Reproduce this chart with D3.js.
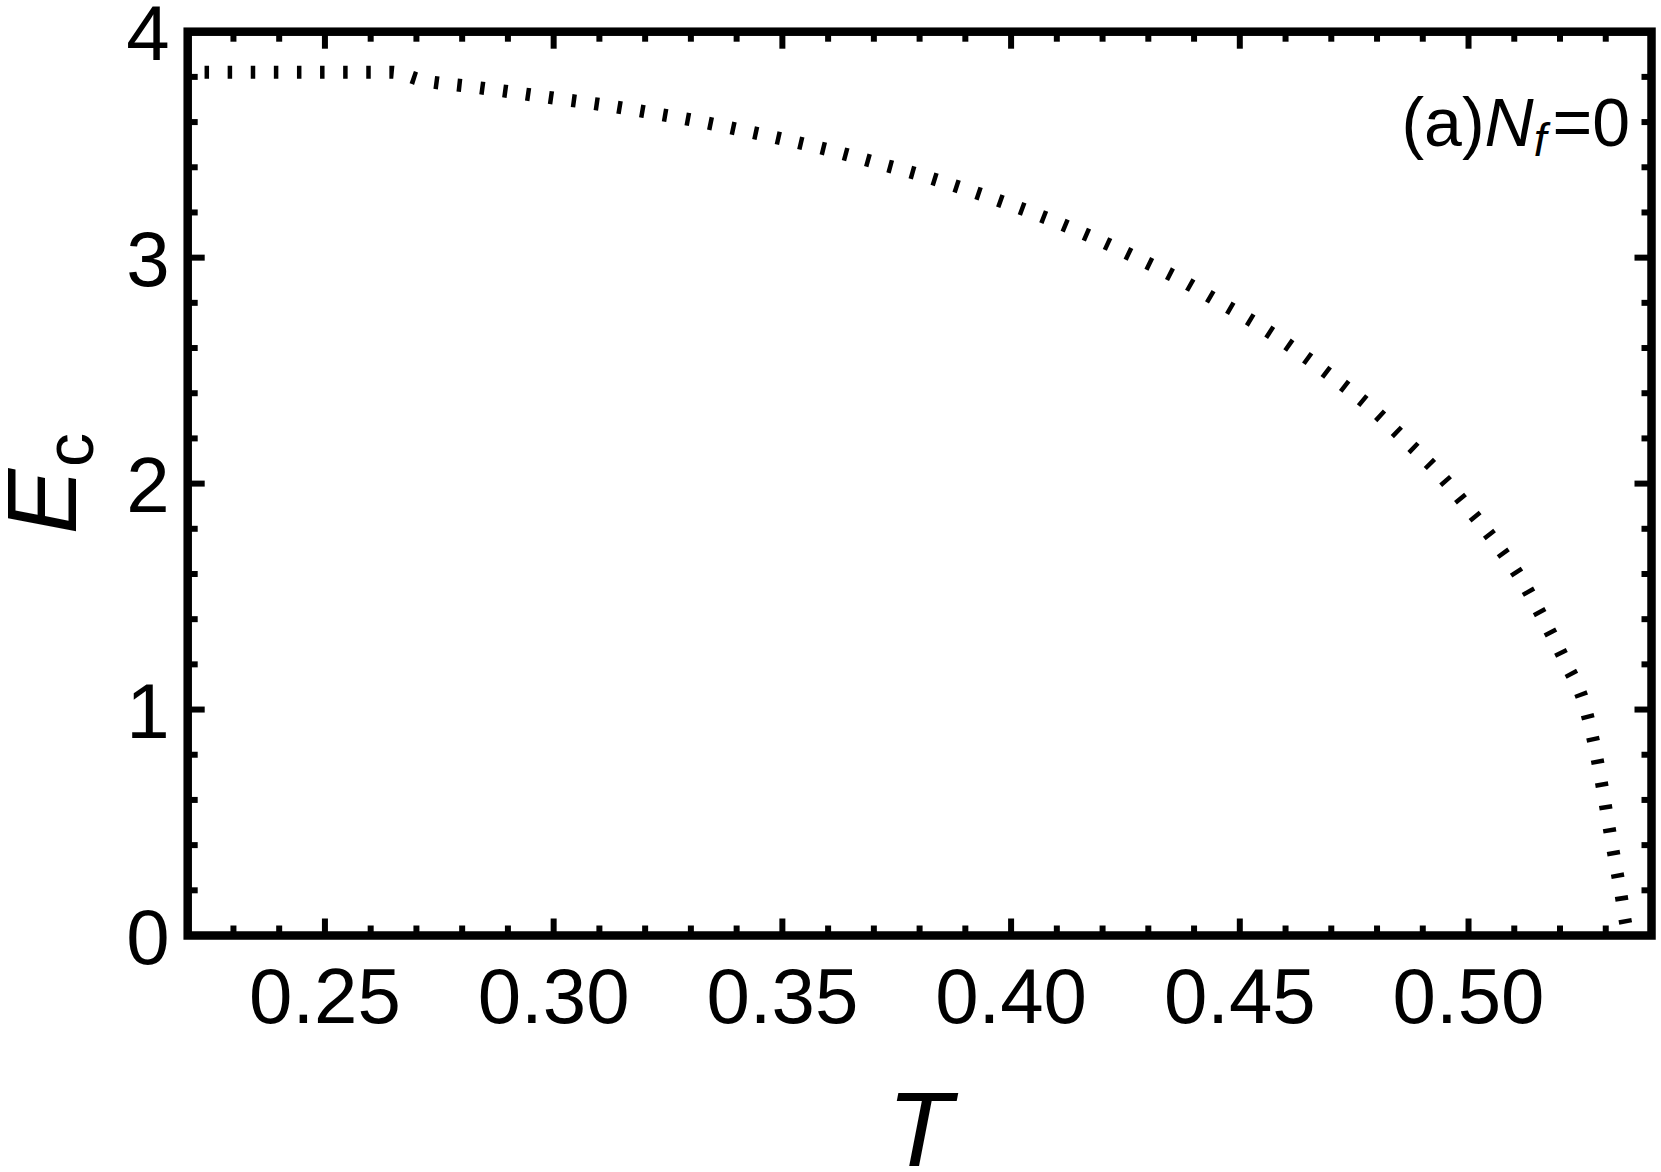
<!DOCTYPE html>
<html>
<head>
<meta charset="utf-8">
<script src="https://cdn.jsdelivr.net/npm/d3@7"></script>
<style>
  body { margin: 0; background: #fff; }
  text { font-family: "Liberation Sans", Arial, Helvetica, sans-serif; fill: #000; }
</style>
</head>
<body>
<script>
// critical field curve
var tValues = [0.2200, 0.2645, 0.2712, 0.2811, 0.2911, 0.3012, 0.3112, 0.3213, 0.3314, 0.3412,
               0.3511, 0.3609, 0.3707, 0.3805, 0.3902, 0.3998, 0.4092, 0.4186, 0.4278, 0.4368,
               0.4455, 0.4543, 0.4628, 0.4709, 0.4788, 0.4862, 0.4934, 0.4999, 0.5063, 0.5120,
               0.5168, 0.5214, 0.5255, 0.5278, 0.5296, 0.5313, 0.5331, 0.5349, 0.5353];
var eValues = [3.821, 3.821, 3.785, 3.759, 3.732, 3.703, 3.675, 3.641, 3.605, 3.564,
               3.520, 3.473, 3.419, 3.364, 3.302, 3.235, 3.163, 3.083, 2.996, 2.905,
               2.804, 2.699, 2.583, 2.462, 2.334, 2.192, 2.048, 1.892, 1.728, 1.560,
               1.383, 1.201, 1.011, 0.813, 0.614, 0.411, 0.210, 0.011, 0.000];
var xTickLabels = [0.25, 0.30, 0.35, 0.40, 0.45, 0.50];
var yTickLabels = [0, 1, 2, 3, 4];

var width = 1661, height = 1172;
var margins = {top: 31.7, bottom: 236.5, left: 187.7, right: 9.5};

var svg = d3.select("body")
    .append("svg")
        .attr("width", width)
        .attr("height", height);

var x = d3.scaleLinear().domain([0.22, 0.54]).range([margins.left, width - margins.right]);
var y = d3.scaleLinear().domain([0, 4]).range([height - margins.bottom, margins.top]);

var points = tValues.map(function(t, i){ return [t, eValues[i]]; });

var line = d3.line()
    .x(function(d){ return x(d[0]); })
    .y(function(d){ return y(d[1]); })
    .curve(d3.curveMonotoneX);

svg.append("path")
    .datum(points)
    .attr("d", line)
    .attr("fill", "none")
    .attr("stroke", "#000")
    .attr("stroke-width", 13)
    .attr("stroke-dasharray", "4.5,18.6")
    .attr("stroke-dashoffset", 6.25);

// ticks on all four sides, pointing inward
var xMinor = d3.range(0.23, 0.5401, 0.01).map(function(v){ return Math.round(v*100)/100; });
var yMinor = d3.range(0, 4.001, 0.2).map(function(v){ return Math.round(v*10)/10; });
var isMajorX = function(v){ return Math.abs(v*20 - Math.round(v*20)) < 1e-6; };
var isMajorY = function(v){ return Math.abs(v - Math.round(v)) < 1e-6; };

var ticks = svg.append("g").attr("stroke", "#000").attr("stroke-width", 6);
xMinor.forEach(function(v){
    var len = isMajorX(v) ? 17 : 10;
    ticks.append("line").attr("x1", x(v)).attr("x2", x(v)).attr("y1", y(0)).attr("y2", y(0) - len);
    ticks.append("line").attr("x1", x(v)).attr("x2", x(v)).attr("y1", y(4)).attr("y2", y(4) + len);
});
yMinor.forEach(function(v){
    var len = isMajorY(v) ? 17 : 10;
    ticks.append("line").attr("x1", x(0.22)).attr("x2", x(0.22) + len).attr("y1", y(v)).attr("y2", y(v));
    ticks.append("line").attr("x1", x(0.54)).attr("x2", x(0.54) - len).attr("y1", y(v)).attr("y2", y(v));
});

// frame
svg.append("rect")
    .attr("x", x(0.22))
    .attr("y", y(4))
    .attr("width", x(0.54) - x(0.22))
    .attr("height", y(0) - y(4))
    .attr("fill", "none")
    .attr("stroke", "#000")
    .attr("stroke-width", 8.5);

// tick labels
svg.selectAll(".xlab")
    .data(xTickLabels)
    .enter()
    .append("text")
        .classed("xlab", true)
        .attr("x", function(d){ return x(d); })
        .attr("y", y(0) + 87)
        .attr("text-anchor", "middle")
        .attr("font-size", 78)
        .text(function(d){ return d.toFixed(2); });

svg.selectAll(".ylab")
    .data(yTickLabels)
    .enter()
    .append("text")
        .classed("ylab", true)
        .attr("x", x(0.22) - 18)
        .attr("y", function(d){ return y(d); })
        .attr("dy", "0.36em")
        .attr("text-anchor", "end")
        .attr("font-size", 78)
        .text(function(d){ return d; });

// axis titles
svg.append("text")
    .attr("x", (x(0.22) + x(0.54))/2)
    .attr("y", 1166)
    .attr("text-anchor", "middle")
    .attr("font-size", 106)
    .attr("font-style", "italic")
    .text("T");

var ylab = svg.append("text")
    .attr("transform", "translate(76," + ((y(0) + y(4))/2) + ") rotate(-90)")
    .attr("text-anchor", "middle")
    .attr("font-size", 98);
ylab.append("tspan").attr("font-style", "italic").text("E");
ylab.append("tspan").attr("font-size", 68).attr("dy", 17).attr("dx", 2).text("c");

// panel annotation
var note = svg.append("text")
    .attr("x", 1630)
    .attr("y", 146)
    .attr("text-anchor", "end")
    .attr("font-size", 68);
note.append("tspan").text("(a)");
note.append("tspan").attr("font-style", "italic").text("N");
note.append("tspan").attr("font-style", "italic").attr("font-size", 46).attr("dy", 10).text("f");
note.append("tspan").attr("dy", -10).attr("dx", 6).text("=0");
</script>
</body>
</html>
